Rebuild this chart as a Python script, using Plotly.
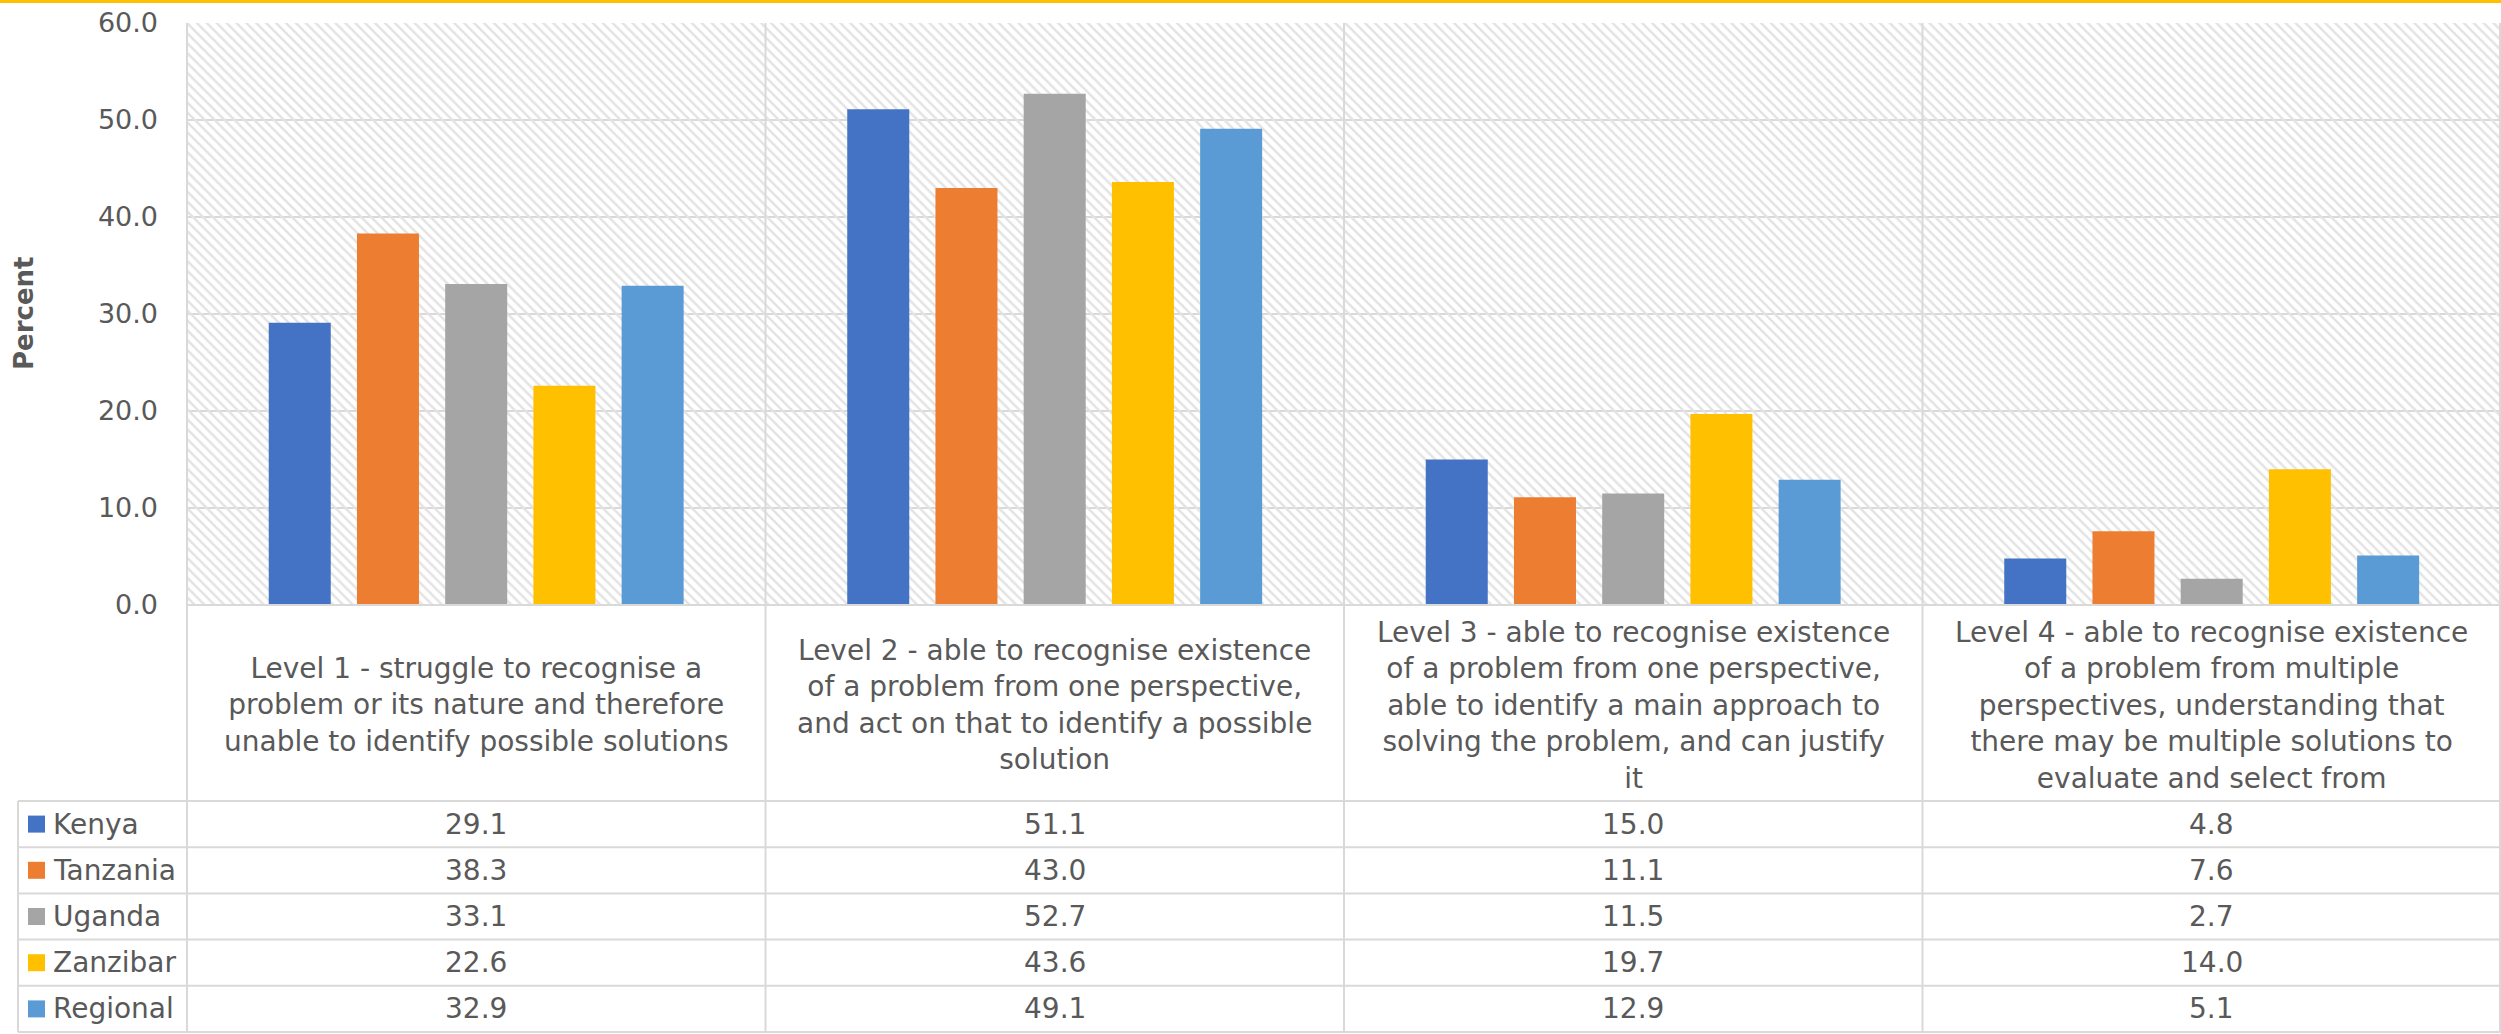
import plotly.graph_objects as go

# ---------------- data ----------------
categories = [
    "Level 1 - struggle to recognise a<br>problem or its nature and therefore<br>unable to identify possible solutions",
    "Level 2 - able to recognise existence<br>of a problem from one perspective,<br>and act on that to identify a possible<br>solution",
    "Level 3 - able to recognise existence<br>of a problem from one perspective,<br>able to identify a main approach to<br>solving the problem, and can justify<br>it",
    "Level 4 - able to recognise existence<br>of a problem from multiple<br>perspectives, understanding that<br>there may be multiple solutions to<br>evaluate and select from",
]
series_names = ["Kenya", "Tanzania", "Uganda", "Zanzibar", "Regional"]
kenya = [29.1, 51.1, 15.0, 4.8]
tanzania = [38.3, 43.0, 11.1, 7.6]
uganda = [33.1, 52.7, 11.5, 2.7]
zanzibar = [22.6, 43.6, 19.7, 14.0]
regional = [32.9, 49.1, 12.9, 5.1]
series_values = [kenya, tanzania, uganda, zanzibar, regional]
colors = ["#4472C4", "#ED7D31", "#A5A5A5", "#FFC000", "#5B9BD5"]
y_ticks = [0, 10, 20, 30, 40, 50, 60]
Y_MAX = 60
y_title = "Percent"

# ---------------- layout geometry (pixels) ----------------
W, H = 2501, 1034
L, R, T, B = 187, 0, 23, 429
PLOT_TOP, PLOT_BOT = T, H - B
PH = PLOT_BOT - PLOT_TOP
PW = W - L - R
FONT = "DejaVu Sans"
TXT = "#595959"
GRID = "#d9d9d9"

def py(Y):
    return (PLOT_BOT - Y) / PH

def px(X):
    return (X - L) / PW

HEADER_BOT = 801
ROW_H = 46.2
TABLE_BOT = HEADER_BOT + ROW_H * len(series_names)
LEG_LEFT = 18

xs = list(range(len(categories)))

fig = go.Figure()

# hatched plot-area background
fig.add_trace(go.Bar(
    x=[(len(categories) - 1) / 2], y=[Y_MAX], width=[len(categories)],
    marker=dict(color="rgba(0,0,0,0)", line=dict(width=0),
                pattern=dict(shape="\\", fgcolor="#e3e3e3", bgcolor="rgba(0,0,0,0)",
                             size=7, solidity=0.35, fillmode="replace")),
    hoverinfo="skip", showlegend=False))

slot = 0.1525
bw = 0.1072
start = -0.3587
for i, (name, vals) in enumerate(zip(series_names, series_values)):
    fig.add_trace(go.Bar(
        x=xs, y=vals, name=name, width=bw, offset=start + i * slot,
        marker=dict(color=colors[i], line=dict(width=0)),
        showlegend=False))

shapes = []
line = dict(color=GRID, width=2)
# top yellow strip
shapes.append(dict(type="rect", xref="paper", yref="paper", x0=px(0), x1=px(W),
                   y0=py(3), y1=py(-2), fillcolor="#FFC000", line=dict(width=0)))
# x axis line
shapes.append(dict(type="line", xref="paper", yref="paper", x0=0, x1=1,
                   y0=py(PLOT_BOT), y1=py(PLOT_BOT), line=line))
# left border of plot / table
shapes.append(dict(type="line", xref="paper", yref="paper", x0=0, x1=0,
                   y0=1, y1=py(TABLE_BOT), line=line))
# right border
shapes.append(dict(type="line", xref="paper", yref="paper", x0=px(W - 1), x1=px(W - 1),
                   y0=1, y1=py(TABLE_BOT), line=line))
# category separators
for k in range(1, len(categories)):
    shapes.append(dict(type="line", xref="x", yref="paper", x0=k - 0.5, x1=k - 0.5,
                       y0=1, y1=py(TABLE_BOT), line=line))
# table horizontal lines
for r in range(len(series_names) + 1):
    Y = HEADER_BOT + ROW_H * r
    shapes.append(dict(type="line", xref="paper", yref="paper", x0=px(LEG_LEFT), x1=px(W),
                       y0=py(Y), y1=py(Y), line=line))
# legend column left border
shapes.append(dict(type="line", xref="paper", yref="paper", x0=px(LEG_LEFT), x1=px(LEG_LEFT),
                   y0=py(HEADER_BOT), y1=py(TABLE_BOT), line=line))

annotations = []
# category headers
for k, cat in enumerate(categories):
    annotations.append(dict(x=k, xref="x", y=py(705), yref="paper", text=cat,
                            showarrow=False, xanchor="center", yanchor="middle",
                            align="center", font=dict(family=FONT, size=28, color=TXT)))
# table rows
for r, (name, vals) in enumerate(zip(series_names, series_values)):
    yc = HEADER_BOT + ROW_H * r + ROW_H / 2
    shapes.append(dict(type="rect", xref="paper", yref="paper",
                       x0=px(28), x1=px(45), y0=py(yc + 8.5), y1=py(yc - 8.5),
                       fillcolor=colors[r], line=dict(width=0)))
    annotations.append(dict(x=px(51), xref="paper", y=py(yc), yref="paper", text=name,
                            showarrow=False, xanchor="left", yanchor="middle",
                            font=dict(family=FONT, size=28, color=TXT)))
    for k, v in enumerate(vals):
        annotations.append(dict(x=k, xref="x", y=py(yc), yref="paper", text=f"{v:.1f}",
                                showarrow=False, xanchor="center", yanchor="middle",
                                font=dict(family=FONT, size=28, color=TXT)))
# y title
annotations.append(dict(x=px(24), xref="paper", y=py(313), yref="paper", text=f"<b>{y_title}</b>",
                        showarrow=False, textangle=-90, xanchor="center", yanchor="middle",
                        font=dict(family=FONT, size=26, color=TXT)))

fig.update_layout(
    width=W, height=H,
    margin=dict(l=L, r=R, t=T, b=B, pad=0),
    barmode="overlay",
    paper_bgcolor="white", plot_bgcolor="white",
    shapes=shapes, annotations=annotations,
    xaxis=dict(range=[-0.5, len(categories) - 0.5], showticklabels=False, showgrid=False,
               zeroline=False, showline=False, fixedrange=True),
    yaxis=dict(range=[0, Y_MAX], tickvals=y_ticks, tickformat=".1f", showgrid=True,
               gridcolor=GRID, gridwidth=2, zeroline=False, showline=False,
               ticks="", ticklabelstandoff=28,
               tickfont=dict(family=FONT, size=27, color=TXT)),
    font=dict(family=FONT, color=TXT),
)

fig.write_html("out.html")
